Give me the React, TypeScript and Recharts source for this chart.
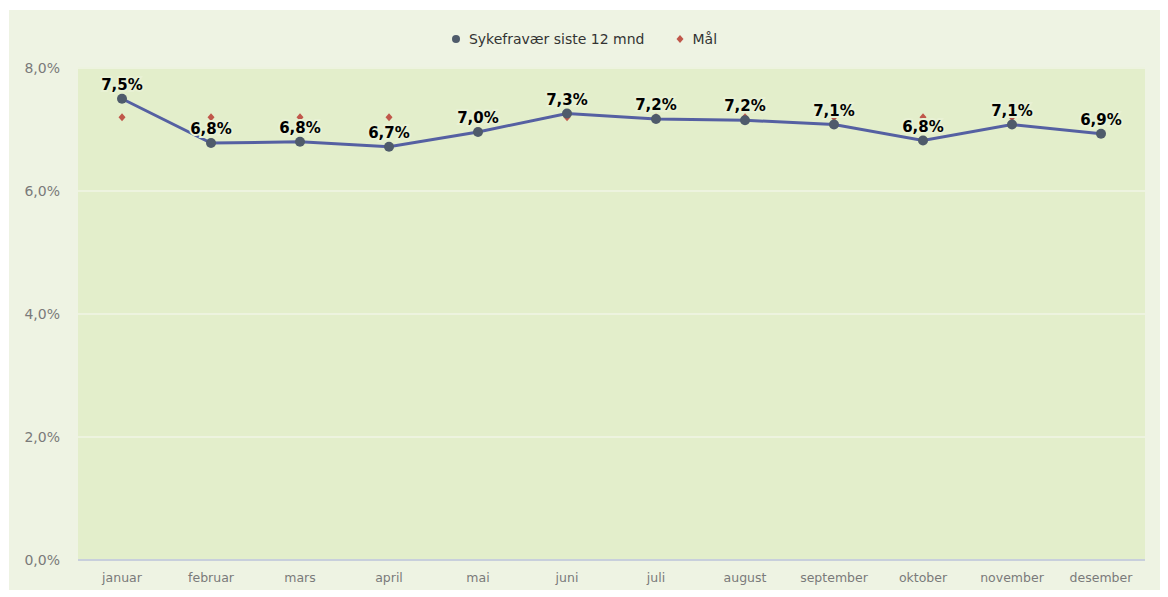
import { CartesianGrid, LabelList, Line, LineChart, XAxis, YAxis } from "recharts";

const months = [
  "januar", "februar", "mars", "april", "mai", "juni",
  "juli", "august", "september", "oktober", "november", "desember",
];
const sykefravaer = [7.5, 6.78, 6.8, 6.72, 6.96, 7.26, 7.17, 7.15, 7.08, 6.82, 7.08, 6.93];
const maal = [7.2, 7.2, 7.2, 7.2, 7.2, 7.2, 7.2, 7.2, 7.2, 7.2, 7.2, 7.2];
const yTicks = [0, 2, 4, 6, 8];

const data = months.map((m, i) => ({ month: m, syk: sykefravaer[i], maal: maal[i] }));

const FONT = "'DejaVu Sans', Verdana, sans-serif";
const pct = (v: number) => `${v.toFixed(1).replace(".", ",")}%`;

function Diamond({ cx, cy }: { cx?: number; cy?: number }) {
  if (cx == null || cy == null) return null;
  return (
    <path
      d={`M${cx},${cy - 4} L${cx + 3.5},${cy} L${cx},${cy + 4} L${cx - 3.5},${cy} Z`}
      fill="#c0574a"
    />
  );
}

function LegendBox() {
  return (
    <div
      style={{
        display: "flex", justifyContent: "center", alignItems: "center",
        fontFamily: FONT, fontSize: 14, color: "#333", gap: 8,
      }}
    >
      <svg width={10} height={10}><circle cx={5} cy={5} r={4} fill="#4f5b6b" /></svg>
      <span style={{ marginRight: 22 }}>Sykefravær siste 12 mnd</span>
      <svg width={10} height={10}><path d="M5,1 L8.5,5 L5,9 L1.5,5 Z" fill="#c0574a" /></svg>
      <span>Mål</span>
    </div>
  );
}

export default function App() {
  return (
    <div style={{ position: "absolute", left: 0, top: 0, width: 1168, height: 597, background: "#fff" }}>
      <div
        style={{
          position: "absolute", left: 9, top: 10, width: 1151, height: 580,
          background: "#eef3e3",
        }}
      />
      <div style={{ position: "absolute", left: 0, top: 31, width: 1168 }}>
        <LegendBox />
      </div>
      <div style={{ position: "absolute", left: 0, top: 0 }}>
        <LineChart
          width={1168}
          height={597}
          data={data}
          margin={{ top: 68, right: 23, bottom: 7, left: 18 }}
        >
          <CartesianGrid
            vertical={false}
            fill="#e3eecb"
            stroke="#edf3df"
            strokeWidth={2}
          />
          <XAxis
            dataKey="month"
            padding={{ left: 44, right: 44 }}
            axisLine={{ stroke: "#c8cfdc", strokeWidth: 2 }}
            tickLine={false}
            tickSize={0}
            tickMargin={13}
            tick={{ fill: "#7a7a7a", fontSize: 12.5, fontFamily: FONT }}
          />
          <YAxis
            domain={[0, 8]}
            ticks={yTicks}
            width={60}
            axisLine={false}
            tickLine={false}
            tickSize={0}
            tickMargin={18}
            tickFormatter={pct}
            tick={{ fill: "#7a7a7a", fontSize: 14, fontFamily: FONT }}
          />
          <Line
            dataKey="maal"
            stroke="none"
            dot={<Diamond />}
            activeDot={false}
            isAnimationActive={false}
          />
          <Line
            dataKey="syk"
            stroke="#5560a2"
            strokeWidth={3}
            dot={{ r: 5, fill: "#4f5b6b", stroke: "none" }}
            activeDot={false}
            isAnimationActive={false}
          >
            <LabelList
              dataKey="syk"
              position="top"
              offset={9}
              formatter={(v: number) => pct(v)}
              style={{
                fill: "#000", fontSize: 15, fontWeight: "bold", fontFamily: FONT,
                stroke: "#e8f1d4", strokeWidth: 4, paintOrder: "stroke",
              }}
            />
          </Line>
        </LineChart>
      </div>
    </div>
  );
}
